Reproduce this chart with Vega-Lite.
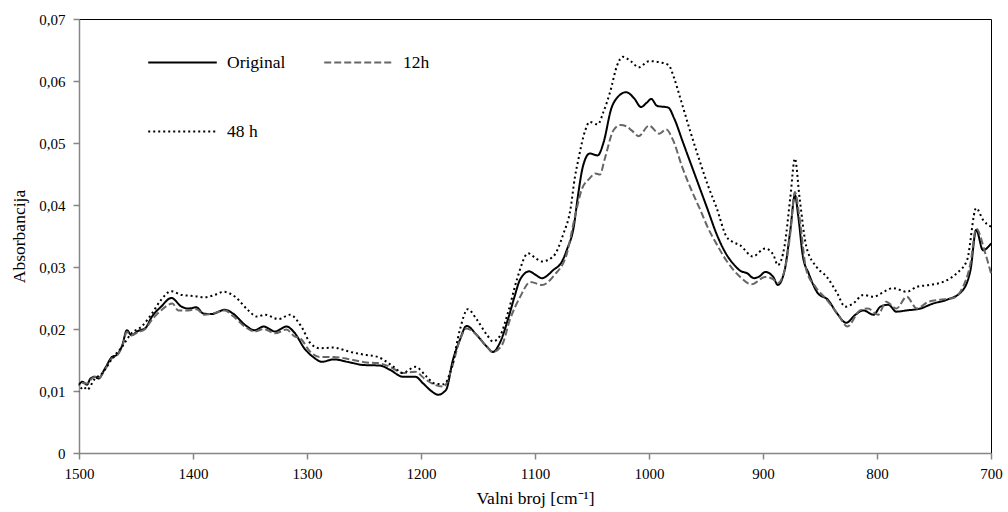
{
  "$schema": "https://vega.github.io/schema/vega-lite/v6.json",
  "autosize": {"type": "none"},
  "width": 912,
  "height": 434,
  "padding": {"left": 79, "top": 19, "right": 17, "bottom": 59},
  "background": "white",
  "config": {
    "view": {"stroke": "black", "strokeWidth": 1},
    "font": "Liberation Serif",
    "axis": {"grid": false, "labelFlush": false, "labelFont": "Liberation Serif", "titleFont": "Liberation Serif", "labelColor": "#000", "titleColor": "#000", "labelFontSize": 15, "titleFontSize": 17.5, "titleFontWeight": "normal", "domainColor": "#868686", "domainWidth": 1.5, "tickColor": "#868686", "tickSize": 6, "tickWidth": 1.5}
  },
  "data": {"values": [
    {"s":"Original","w":1500,"a":0.0110},{"s":"Original","w":1497,"a":0.0115},{"s":"Original","w":1493,"a":0.0110},{"s":"Original","w":1490,"a":0.0120},{"s":"Original","w":1486,"a":0.0123},{"s":"Original","w":1483,"a":0.0120},{"s":"Original","w":1477,"a":0.0137},{"s":"Original","w":1471,"a":0.0155},{"s":"Original","w":1467,"a":0.0158},{"s":"Original","w":1462,"a":0.0174},{"s":"Original","w":1458,"a":0.0198},{"s":"Original","w":1454,"a":0.0190},{"s":"Original","w":1448,"a":0.0197},{"s":"Original","w":1442,"a":0.0201},{"s":"Original","w":1436,"a":0.0220},{"s":"Original","w":1428,"a":0.0236},{"s":"Original","w":1419,"a":0.0250},{"s":"Original","w":1410,"a":0.0236},{"s":"Original","w":1404,"a":0.0233},{"s":"Original","w":1397,"a":0.0235},{"s":"Original","w":1391,"a":0.0225},{"s":"Original","w":1384,"a":0.0224},{"s":"Original","w":1372,"a":0.0231},{"s":"Original","w":1365,"a":0.0225},{"s":"Original","w":1354,"a":0.0206},{"s":"Original","w":1346,"a":0.0198},{"s":"Original","w":1338,"a":0.0204},{"s":"Original","w":1328,"a":0.0196},{"s":"Original","w":1318,"a":0.0204},{"s":"Original","w":1311,"a":0.0194},{"s":"Original","w":1302,"a":0.0168},{"s":"Original","w":1294,"a":0.0154},{"s":"Original","w":1287,"a":0.0147},{"s":"Original","w":1277,"a":0.0151},{"s":"Original","w":1262,"a":0.0146},{"s":"Original","w":1251,"a":0.0142},{"s":"Original","w":1236,"a":0.0141},{"s":"Original","w":1227,"a":0.0134},{"s":"Original","w":1216,"a":0.0123},{"s":"Original","w":1205,"a":0.0123},{"s":"Original","w":1198,"a":0.0112},{"s":"Original","w":1191,"a":0.0100},{"s":"Original","w":1185,"a":0.0094},{"s":"Original","w":1178,"a":0.0102},{"s":"Original","w":1172,"a":0.0150},{"s":"Original","w":1166,"a":0.0182},{"s":"Original","w":1160,"a":0.0205},{"s":"Original","w":1151,"a":0.0190},{"s":"Original","w":1142,"a":0.0171},{"s":"Original","w":1137,"a":0.0163},{"s":"Original","w":1131,"a":0.0177},{"s":"Original","w":1123,"a":0.0220},{"s":"Original","w":1118,"a":0.0252},{"s":"Original","w":1113,"a":0.0280},{"s":"Original","w":1105,"a":0.0293},{"s":"Original","w":1100,"a":0.0288},{"s":"Original","w":1094,"a":0.0282},{"s":"Original","w":1084,"a":0.0295},{"s":"Original","w":1076,"a":0.0310},{"s":"Original","w":1072,"a":0.0328},{"s":"Original","w":1066,"a":0.0365},{"s":"Original","w":1062,"a":0.0419},{"s":"Original","w":1058,"a":0.0462},{"s":"Original","w":1052,"a":0.0483},{"s":"Original","w":1045,"a":0.0480},{"s":"Original","w":1040,"a":0.0500},{"s":"Original","w":1033,"a":0.0556},{"s":"Original","w":1027,"a":0.0575},{"s":"Original","w":1020,"a":0.0582},{"s":"Original","w":1013,"a":0.0572},{"s":"Original","w":1007,"a":0.0558},{"s":"Original","w":1002,"a":0.0565},{"s":"Original","w":998,"a":0.0571},{"s":"Original","w":993,"a":0.0560},{"s":"Original","w":983,"a":0.0557},{"s":"Original","w":978,"a":0.0540},{"s":"Original","w":970,"a":0.0500},{"s":"Original","w":962,"a":0.0460},{"s":"Original","w":955,"a":0.0425},{"s":"Original","w":949,"a":0.0395},{"s":"Original","w":940,"a":0.0350},{"s":"Original","w":932,"a":0.0320},{"s":"Original","w":926,"a":0.0305},{"s":"Original","w":920,"a":0.0294},{"s":"Original","w":914,"a":0.0290},{"s":"Original","w":908,"a":0.0282},{"s":"Original","w":903,"a":0.0285},{"s":"Original","w":898,"a":0.0292},{"s":"Original","w":891,"a":0.0284},{"s":"Original","w":887,"a":0.0271},{"s":"Original","w":881,"a":0.0295},{"s":"Original","w":876,"a":0.0360},{"s":"Original","w":872,"a":0.0416},{"s":"Original","w":869,"a":0.0381},{"s":"Original","w":865,"a":0.0317},{"s":"Original","w":860,"a":0.0290},{"s":"Original","w":852,"a":0.0258},{"s":"Original","w":843,"a":0.0247},{"s":"Original","w":835,"a":0.0225},{"s":"Original","w":827,"a":0.0210},{"s":"Original","w":819,"a":0.0223},{"s":"Original","w":812,"a":0.0230},{"s":"Original","w":803,"a":0.0223},{"s":"Original","w":797,"a":0.0236},{"s":"Original","w":790,"a":0.0239},{"s":"Original","w":783,"a":0.0228},{"s":"Original","w":774,"a":0.0230},{"s":"Original","w":762,"a":0.0233},{"s":"Original","w":751,"a":0.0241},{"s":"Original","w":739,"a":0.0247},{"s":"Original","w":726,"a":0.0260},{"s":"Original","w":718,"a":0.0295},{"s":"Original","w":713,"a":0.0360},{"s":"Original","w":707,"a":0.0327},{"s":"Original","w":700,"a":0.0338},
    {"s":"12h","w":1500,"a":0.0108},{"s":"12h","w":1497,"a":0.0113},{"s":"12h","w":1493,"a":0.0112},{"s":"12h","w":1490,"a":0.0118},{"s":"12h","w":1486,"a":0.0123},{"s":"12h","w":1483,"a":0.0121},{"s":"12h","w":1477,"a":0.0135},{"s":"12h","w":1471,"a":0.0153},{"s":"12h","w":1467,"a":0.0157},{"s":"12h","w":1462,"a":0.0172},{"s":"12h","w":1458,"a":0.0195},{"s":"12h","w":1454,"a":0.0190},{"s":"12h","w":1448,"a":0.0195},{"s":"12h","w":1442,"a":0.0200},{"s":"12h","w":1436,"a":0.0215},{"s":"12h","w":1428,"a":0.0230},{"s":"12h","w":1418,"a":0.0241},{"s":"12h","w":1413,"a":0.0230},{"s":"12h","w":1404,"a":0.0230},{"s":"12h","w":1397,"a":0.0232},{"s":"12h","w":1390,"a":0.0223},{"s":"12h","w":1383,"a":0.0225},{"s":"12h","w":1372,"a":0.0230},{"s":"12h","w":1365,"a":0.0221},{"s":"12h","w":1354,"a":0.0203},{"s":"12h","w":1346,"a":0.0196},{"s":"12h","w":1338,"a":0.0200},{"s":"12h","w":1328,"a":0.0193},{"s":"12h","w":1318,"a":0.0199},{"s":"12h","w":1311,"a":0.0188},{"s":"12h","w":1306,"a":0.0185},{"s":"12h","w":1297,"a":0.0163},{"s":"12h","w":1289,"a":0.0155},{"s":"12h","w":1277,"a":0.0155},{"s":"12h","w":1262,"a":0.0151},{"s":"12h","w":1248,"a":0.0146},{"s":"12h","w":1238,"a":0.0145},{"s":"12h","w":1227,"a":0.0139},{"s":"12h","w":1216,"a":0.0129},{"s":"12h","w":1205,"a":0.0131},{"s":"12h","w":1197,"a":0.0120},{"s":"12h","w":1188,"a":0.0110},{"s":"12h","w":1180,"a":0.0107},{"s":"12h","w":1173,"a":0.0137},{"s":"12h","w":1166,"a":0.0182},{"s":"12h","w":1160,"a":0.0201},{"s":"12h","w":1151,"a":0.0190},{"s":"12h","w":1142,"a":0.0171},{"s":"12h","w":1137,"a":0.0163},{"s":"12h","w":1129,"a":0.0174},{"s":"12h","w":1122,"a":0.0215},{"s":"12h","w":1113,"a":0.0252},{"s":"12h","w":1104,"a":0.0276},{"s":"12h","w":1094,"a":0.0271},{"s":"12h","w":1083,"a":0.0287},{"s":"12h","w":1072,"a":0.0322},{"s":"12h","w":1065,"a":0.0381},{"s":"12h","w":1059,"a":0.0425},{"s":"12h","w":1052,"a":0.0443},{"s":"12h","w":1047,"a":0.0451},{"s":"12h","w":1043,"a":0.0449},{"s":"12h","w":1039,"a":0.0473},{"s":"12h","w":1031,"a":0.0521},{"s":"12h","w":1025,"a":0.0529},{"s":"12h","w":1020,"a":0.0527},{"s":"12h","w":1015,"a":0.0520},{"s":"12h","w":1009,"a":0.0511},{"s":"12h","w":1000,"a":0.0528},{"s":"12h","w":991,"a":0.0515},{"s":"12h","w":985,"a":0.0522},{"s":"12h","w":979,"a":0.0505},{"s":"12h","w":971,"a":0.0462},{"s":"12h","w":963,"a":0.0425},{"s":"12h","w":955,"a":0.0392},{"s":"12h","w":948,"a":0.0362},{"s":"12h","w":941,"a":0.0338},{"s":"12h","w":932,"a":0.0310},{"s":"12h","w":920,"a":0.0284},{"s":"12h","w":910,"a":0.0272},{"s":"12h","w":898,"a":0.0284},{"s":"12h","w":891,"a":0.0280},{"s":"12h","w":887,"a":0.0274},{"s":"12h","w":881,"a":0.0295},{"s":"12h","w":876,"a":0.0355},{"s":"12h","w":872,"a":0.0421},{"s":"12h","w":868,"a":0.0380},{"s":"12h","w":862,"a":0.0295},{"s":"12h","w":854,"a":0.0268},{"s":"12h","w":844,"a":0.0247},{"s":"12h","w":834,"a":0.0223},{"s":"12h","w":826,"a":0.0204},{"s":"12h","w":815,"a":0.0230},{"s":"12h","w":808,"a":0.0233},{"s":"12h","w":799,"a":0.0223},{"s":"12h","w":792,"a":0.0244},{"s":"12h","w":783,"a":0.0233},{"s":"12h","w":774,"a":0.0252},{"s":"12h","w":765,"a":0.0233},{"s":"12h","w":755,"a":0.0244},{"s":"12h","w":745,"a":0.0247},{"s":"12h","w":733,"a":0.0250},{"s":"12h","w":726,"a":0.0263},{"s":"12h","w":718,"a":0.0306},{"s":"12h","w":713,"a":0.0362},{"s":"12h","w":705,"a":0.0322},{"s":"12h","w":700,"a":0.0290},
    {"s":"48 h","w":1500,"a":0.0099},{"s":"48 h","w":1496,"a":0.0107},{"s":"48 h","w":1493,"a":0.0102},{"s":"48 h","w":1486,"a":0.0120},{"s":"48 h","w":1480,"a":0.0128},{"s":"48 h","w":1471,"a":0.0152},{"s":"48 h","w":1462,"a":0.0172},{"s":"48 h","w":1454,"a":0.0193},{"s":"48 h","w":1445,"a":0.0204},{"s":"48 h","w":1436,"a":0.0225},{"s":"48 h","w":1428,"a":0.0247},{"s":"48 h","w":1419,"a":0.0261},{"s":"48 h","w":1410,"a":0.0255},{"s":"48 h","w":1398,"a":0.0253},{"s":"48 h","w":1390,"a":0.0251},{"s":"48 h","w":1381,"a":0.0255},{"s":"48 h","w":1373,"a":0.0260},{"s":"48 h","w":1363,"a":0.0252},{"s":"48 h","w":1352,"a":0.0231},{"s":"48 h","w":1344,"a":0.0220},{"s":"48 h","w":1337,"a":0.0223},{"s":"48 h","w":1325,"a":0.0216},{"s":"48 h","w":1315,"a":0.0223},{"s":"48 h","w":1305,"a":0.0204},{"s":"48 h","w":1297,"a":0.0177},{"s":"48 h","w":1289,"a":0.0169},{"s":"48 h","w":1277,"a":0.0170},{"s":"48 h","w":1262,"a":0.0163},{"s":"48 h","w":1248,"a":0.0158},{"s":"48 h","w":1238,"a":0.0155},{"s":"48 h","w":1224,"a":0.0139},{"s":"48 h","w":1216,"a":0.0129},{"s":"48 h","w":1205,"a":0.0139},{"s":"48 h","w":1195,"a":0.0123},{"s":"48 h","w":1188,"a":0.0112},{"s":"48 h","w":1180,"a":0.0111},{"s":"48 h","w":1173,"a":0.0139},{"s":"48 h","w":1166,"a":0.0198},{"s":"48 h","w":1159,"a":0.0232},{"s":"48 h","w":1151,"a":0.0215},{"s":"48 h","w":1142,"a":0.0190},{"s":"48 h","w":1137,"a":0.0180},{"s":"48 h","w":1131,"a":0.0188},{"s":"48 h","w":1123,"a":0.0231},{"s":"48 h","w":1116,"a":0.0279},{"s":"48 h","w":1106,"a":0.0322},{"s":"48 h","w":1100,"a":0.0315},{"s":"48 h","w":1094,"a":0.0309},{"s":"48 h","w":1084,"a":0.0317},{"s":"48 h","w":1075,"a":0.0354},{"s":"48 h","w":1069,"a":0.0392},{"s":"48 h","w":1065,"a":0.0445},{"s":"48 h","w":1062,"a":0.0473},{"s":"48 h","w":1056,"a":0.0520},{"s":"48 h","w":1052,"a":0.0534},{"s":"48 h","w":1045,"a":0.0530},{"s":"48 h","w":1040,"a":0.0550},{"s":"48 h","w":1034,"a":0.0583},{"s":"48 h","w":1028,"a":0.0625},{"s":"48 h","w":1023,"a":0.0639},{"s":"48 h","w":1016,"a":0.0632},{"s":"48 h","w":1009,"a":0.0622},{"s":"48 h","w":1000,"a":0.0632},{"s":"48 h","w":990,"a":0.0630},{"s":"48 h","w":983,"a":0.0626},{"s":"48 h","w":978,"a":0.0605},{"s":"48 h","w":973,"a":0.0575},{"s":"48 h","w":964,"a":0.0520},{"s":"48 h","w":955,"a":0.0468},{"s":"48 h","w":948,"a":0.0430},{"s":"48 h","w":941,"a":0.0397},{"s":"48 h","w":932,"a":0.0349},{"s":"48 h","w":926,"a":0.0340},{"s":"48 h","w":920,"a":0.0335},{"s":"48 h","w":909,"a":0.0317},{"s":"48 h","w":898,"a":0.0330},{"s":"48 h","w":891,"a":0.0320},{"s":"48 h","w":887,"a":0.0303},{"s":"48 h","w":881,"a":0.0335},{"s":"48 h","w":876,"a":0.0413},{"s":"48 h","w":872,"a":0.0475},{"s":"48 h","w":868,"a":0.0413},{"s":"48 h","w":862,"a":0.0333},{"s":"48 h","w":853,"a":0.0300},{"s":"48 h","w":844,"a":0.0284},{"s":"48 h","w":835,"a":0.0258},{"s":"48 h","w":828,"a":0.0236},{"s":"48 h","w":821,"a":0.0241},{"s":"48 h","w":812,"a":0.0255},{"s":"48 h","w":803,"a":0.0252},{"s":"48 h","w":794,"a":0.0260},{"s":"48 h","w":786,"a":0.0266},{"s":"48 h","w":774,"a":0.0260},{"s":"48 h","w":765,"a":0.0268},{"s":"48 h","w":754,"a":0.0271},{"s":"48 h","w":742,"a":0.0276},{"s":"48 h","w":730,"a":0.0290},{"s":"48 h","w":721,"a":0.0311},{"s":"48 h","w":713,"a":0.0395},{"s":"48 h","w":707,"a":0.0376},{"s":"48 h","w":700,"a":0.0365}
  ]},
  "mark": {"type": "line", "strokeWidth": 2, "interpolate": "monotone"},
  "encoding": {
    "x": {"field": "w", "type": "quantitative", "scale": {"domain": [700, 1500], "reverse": true, "nice": false, "zero": false},
      "axis": {"values": [1500, 1400, 1300, 1200, 1100, 1000, 900, 800, 700], "format": "d", "title": "Valni broj [cm⁻¹]", "titlePadding": 8, "labelPadding": 7}},
    "y": {"field": "a", "type": "quantitative", "scale": {"domain": [0, 0.07], "nice": false},
      "axis": {"values": [0, 0.01, 0.02, 0.03, 0.04, 0.05, 0.06, 0.07], "labelExpr": "datum.value == 0 ? '0' : replace(format(datum.value, '.2f'), '.', ',')", "title": "Absorbancija", "titlePadding": 10, "labelPadding": 8}},
    "color": {"field": "s", "type": "nominal", "scale": {"domain": ["Original", "12h", "48 h"], "range": ["#000000", "#666666", "#000000"]},
      "legend": {"title": null, "orient": "none", "legendX": 68, "legendY": 8, "columns": 2, "direction": "horizontal", "symbolType": "stroke", "symbolSize": 4700, "symbolStrokeWidth": 2, "labelFont": "Liberation Serif", "labelFontSize": 17.5, "labelColor": "#000", "rowPadding": 25, "columnPadding": 34, "labelOffset": 9, "symbolOffset": 0}},
    "strokeDash": {"field": "s", "type": "nominal", "scale": {"domain": ["Original", "12h", "48 h"], "range": [[1, 0], [7, 3], [2, 3]]}, "legend": {"title": null}},
    "order": {"field": "w", "type": "quantitative"}
  }
}
